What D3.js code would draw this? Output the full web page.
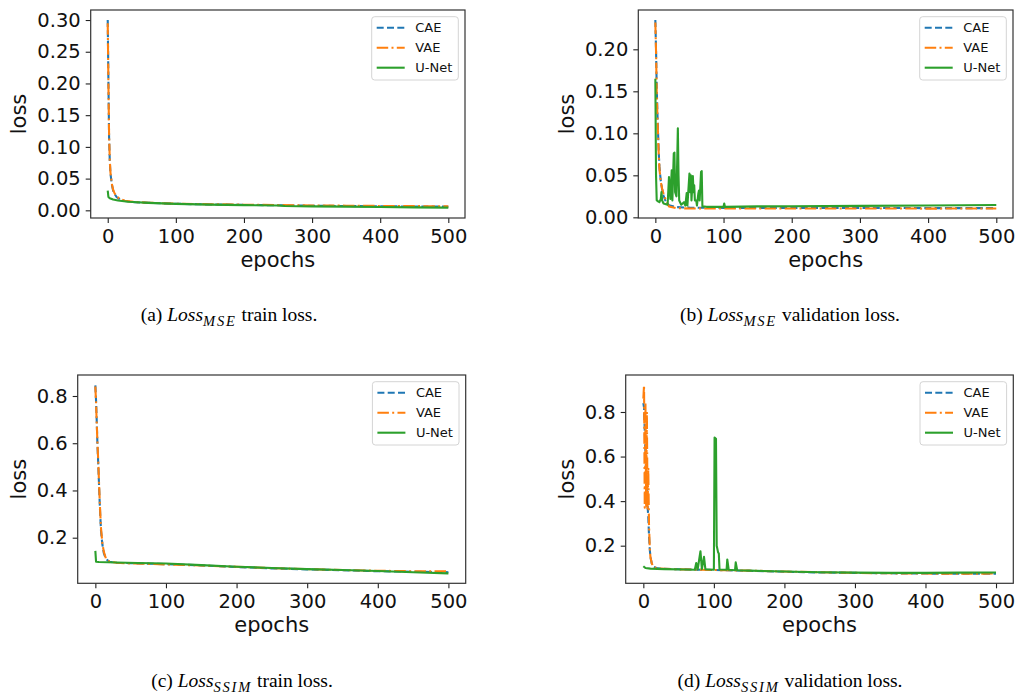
<!DOCTYPE html>
<html>
<head>
<meta charset="utf-8">
<script src="https://cdn.jsdelivr.net/npm/d3@7"></script>
<style>
  body { margin: 0; background: #fff; }
  svg text { font-family: "DejaVu Sans", sans-serif; }
  .cap { font-family: "Liberation Serif", "Times New Roman", serif; }
</style>
</head>
<body>
<svg id="fig" width="1016" height="695"></svg>
<script>
// series, [epoch, loss]
var seriesNames = ["CAE", "VAE", "U-Net"];
var colors = ["#1f77b4", "#ff7f0e", "#2ca02c"];
var dashes = ["7,3.3", "11.5,3.3,2,3.3", null];

// (a) MSE train
var aCAE = [[0,0.300],[1,0.205],[2,0.115],[3,0.078],[4,0.058],[6,0.041],[8,0.031],[10,0.026],[13,0.021],[18,0.017],[25,0.0148],[40,0.0128],[60,0.0118],[100,0.0103],[150,0.0093],[200,0.0085],[250,0.0079],[300,0.0072],[350,0.0068],[400,0.0063],[450,0.006],[500,0.0057]];
var aVAE = [[0,0.295],[1,0.200],[2,0.118],[3,0.080],[4,0.060],[6,0.042],[8,0.032],[10,0.027],[13,0.022],[18,0.018],[25,0.015],[40,0.013],[60,0.012],[100,0.0105],[150,0.0096],[200,0.0089],[250,0.0082],[300,0.0077],[350,0.0073],[400,0.0069],[450,0.0066],[500,0.0063]];
var aUNet = [[0,0.031],[1,0.021],[3,0.019],[8,0.017],[15,0.0155],[30,0.0135],[60,0.0118],[100,0.0101],[150,0.009],[200,0.0082],[250,0.0075],[260,0.0068],[300,0.0063],[350,0.0058],[400,0.0052],[450,0.0047],[500,0.0042]];

// (b) MSE validation
var bCAE = [[0,0.235],[1,0.200],[2,0.155],[3,0.125],[4,0.100],[5,0.077],[6,0.060],[8,0.043],[10,0.033],[12,0.026],[15,0.019],[20,0.0145],[30,0.0122],[50,0.0115],[100,0.0113],[150,0.0112],[200,0.0112],[300,0.0111],[400,0.0110],[500,0.0110]];
var bVAE = [[0,0.232],[1,0.198],[2,0.150],[3,0.120],[4,0.097],[5,0.075],[6,0.058],[8,0.042],[10,0.034],[12,0.028],[15,0.021],[20,0.013],[30,0.011],[50,0.0105],[100,0.0106],[200,0.0105],[300,0.0106],[400,0.0104],[500,0.0105]];
var bUNet = [[0,0.165],[1,0.050],[2,0.0205],[4,0.019],[6,0.018],[8,0.022],[9,0.030],[10,0.020],[12,0.0165],[18,0.015],[20,0.048],[22,0.022],[24,0.056],[25,0.020],[27,0.076],[28,0.077],[29,0.030],[31,0.025],[33,0.106],[34,0.050],[35,0.020],[38,0.015],[42,0.018],[44,0.014],[46,0.029],[47,0.014],[50,0.052],[51,0.030],[52,0.050],[53,0.020],[55,0.049],[56,0.030],[57,0.038],[58,0.020],[60,0.020],[61,0.014],[63,0.028],[64,0.032],[65,0.020],[67,0.054],[68,0.055],[69,0.013],[75,0.0125],[100,0.0125],[101,0.0165],[102,0.0125],[150,0.013],[200,0.0132],[300,0.0136],[400,0.0141],[500,0.0146]];

// (c) SSIM train
var cCAE = [[0,0.845],[1,0.78],[2,0.69],[3,0.59],[4,0.52],[5,0.44],[6,0.36],[7,0.29],[8,0.23],[10,0.17],[12,0.135],[15,0.11],[20,0.098],[30,0.094],[50,0.092],[100,0.088],[150,0.083],[200,0.076],[250,0.070],[300,0.066],[350,0.062],[400,0.058],[450,0.056],[500,0.054]];
var cVAE = [[0,0.84],[1,0.77],[2,0.68],[3,0.60],[4,0.53],[5,0.45],[6,0.37],[7,0.30],[8,0.24],[10,0.175],[12,0.14],[15,0.112],[20,0.099],[30,0.094],[50,0.091],[100,0.087],[150,0.082],[200,0.077],[250,0.071],[300,0.067],[350,0.063],[400,0.060],[450,0.058],[500,0.058]];
var cUNet = [[0,0.144],[1,0.098],[5,0.097],[30,0.095],[60,0.093],[100,0.091],[150,0.084],[200,0.077],[250,0.072],[300,0.067],[350,0.063],[400,0.059],[450,0.054],[500,0.049]];

// (d) SSIM validation
var dCAE = [[0,0.84],[1,0.82],[2,0.72],[3,0.62],[4,0.52],[5,0.44],[6,0.38],[7,0.33],[8,0.25],[9,0.19],[10,0.15],[12,0.12],[15,0.105],[20,0.098],[50,0.094],[100,0.091],[150,0.087],[200,0.083],[250,0.080],[300,0.078],[350,0.076],[400,0.075],[450,0.074],[500,0.074]];
var dVAE = [[0,0.86],[1,0.92],[2,0.37],[3,0.84],[4,0.38],[5,0.80],[6,0.36],[7,0.55],[8,0.30],[9,0.20],[10,0.15],[12,0.12],[15,0.104],[20,0.098],[50,0.094],[100,0.091],[150,0.088],[200,0.084],[250,0.081],[300,0.078],[350,0.076],[400,0.075],[450,0.074],[500,0.075]];
var dUNet = [[0,0.108],[3,0.100],[10,0.097],[30,0.095],[60,0.093],[73,0.092],[75,0.122],[77,0.093],[81,0.175],[83,0.095],[86,0.150],[88,0.094],[100,0.092],[101,0.685],[103,0.680],[104,0.200],[106,0.170],[107,0.165],[108,0.093],[118,0.092],[119,0.138],[121,0.092],[130,0.090],[131,0.125],[133,0.090],[150,0.088],[200,0.084],[250,0.081],[300,0.079],[350,0.078],[400,0.078],[450,0.079],[500,0.080]];

var xTicks = [0, 100, 200, 300, 400, 500];
var mseTicks = [0, 0.05, 0.10, 0.15, 0.20, 0.25, 0.30];
var mseValTicks = [0, 0.05, 0.10, 0.15, 0.20];
var ssimTicks = [0.2, 0.4, 0.6, 0.8];

var captions = [
  {tag: "(a) ", sub: "MSE", rest: " train loss."},
  {tag: "(b) ", sub: "MSE", rest: " validation loss."},
  {tag: "(c) ", sub: "SSIM", rest: " train loss."},
  {tag: "(d) ", sub: "SSIM", rest: " validation loss."}
];

var panels = [
  {box: [90.7, 10, 465, 218], yDom: [-0.0121, 0.3158], ticks: mseTicks, fmt: ".2f", data: [aCAE, aVAE, aUNet], capX: 229, capY: 321},
  {box: [638.3, 10, 1013, 218], yDom: [-0.0008, 0.2468], ticks: mseValTicks, fmt: ".2f", data: [bCAE, bVAE, bUNet], capX: 790, capY: 321},
  {box: [77.7, 375, 465.7, 583.3], yDom: [0.0069, 0.8889], ticks: ssimTicks, fmt: ".1f", data: [cCAE, cVAE, cUNet], capX: 242, capY: 687},
  {box: [625.7, 375, 1013.3, 583.3], yDom: [0.0312, 0.966], ticks: ssimTicks, fmt: ".1f", data: [dCAE, dVAE, dUNet], capX: 790, capY: 687}
];

var svg = d3.select("#fig");
svg.append("rect").attr("width", 1016).attr("height", 695).attr("fill", "#fff");

panels.forEach(function(p, i) {
  var x0 = p.box[0], y0 = p.box[1], x1 = p.box[2], y1 = p.box[3];
  var x = d3.scaleLinear().domain([-25, 524.5]).range([x0, x1]);
  var y = d3.scaleLinear().domain(p.yDom).range([y1, y0]);

  var g = svg.append("g");
  var clipId = "clip" + i;
  g.append("clipPath").attr("id", clipId)
    .append("rect").attr("x", x0).attr("y", y0).attr("width", x1 - x0).attr("height", y1 - y0);

  var line = d3.line()
    .x(function(d) { return x(d[0]); })
    .y(function(d) { return y(d[1]); });

  p.data.forEach(function(s, k) {
    g.append("path")
      .attr("clip-path", "url(#" + clipId + ")")
      .attr("d", line(s))
      .attr("fill", "none")
      .attr("stroke", colors[k])
      .attr("stroke-width", 2.1)
      .attr("stroke-linejoin", "round")
      .attr("stroke-dasharray", dashes[k]);
  });

  // axes
  var xa = g.append("g").attr("transform", "translate(0," + y1 + ")")
    .call(d3.axisBottom(x).tickValues(xTicks).tickSize(5).tickPadding(6).tickSizeOuter(0));
  var ya = g.append("g").attr("transform", "translate(" + x0 + ",0)")
    .call(d3.axisLeft(y).tickValues(p.ticks).tickFormat(d3.format(p.fmt)).tickSize(5).tickPadding(5).tickSizeOuter(0));
  [xa, ya].forEach(function(a) {
    a.select(".domain").remove();
    a.selectAll("line").attr("stroke", "#222").attr("stroke-width", 1.1);
    a.selectAll("text").attr("font-size", 19.5).attr("fill", "#111").attr("font-family", "DejaVu Sans");
  });

  g.append("rect")
    .attr("x", x0).attr("y", y0).attr("width", x1 - x0).attr("height", y1 - y0)
    .attr("fill", "none").attr("stroke", "#333").attr("stroke-width", 1.2);

  g.append("text")
    .attr("x", (x0 + x1) / 2).attr("y", y1 + 49)
    .attr("text-anchor", "middle").attr("font-size", 21).attr("fill", "#111")
    .text("epochs");
  var ly = (y0 + y1) / 2;
  var lx = (i % 2 == 0) ? 18.5 : 566.7;
  g.append("text")
    .attr("transform", "translate(" + (lx + 7) + "," + ly + ") rotate(-90)")
    .attr("text-anchor", "middle").attr("font-size", 21).attr("fill", "#111")
    .text("loss");

  // legend
  var lgx = x1 - 93.3, lgy = y0 + 6.7;
  var lg = g.append("g").attr("transform", "translate(" + lgx + "," + lgy + ")");
  lg.append("rect").attr("width", 86.6).attr("height", 63.3).attr("rx", 3)
    .attr("fill", "#fff").attr("fill-opacity", 0.8).attr("stroke", "#d4d4d4").attr("stroke-width", 1);
  seriesNames.forEach(function(name, k) {
    var ry = 11 + k * 20;
    lg.append("line").attr("x1", 5).attr("x2", 33).attr("y1", ry).attr("y2", ry)
      .attr("stroke", colors[k]).attr("stroke-width", 2.1).attr("stroke-dasharray", dashes[k]);
    lg.append("text").attr("x", 43.5).attr("y", ry).attr("dy", "0.35em")
      .attr("font-size", 13).attr("fill", "#111").text(name);
  });

  // caption
  var c = captions[i];
  var t = svg.append("text").attr("class", "cap")
    .attr("x", p.capX).attr("y", p.capY).attr("text-anchor", "middle")
    .attr("font-size", 19.5).attr("fill", "#000");
  t.append("tspan").text(c.tag);
  t.append("tspan").attr("font-style", "italic").text("Loss");
  t.append("tspan").attr("font-style", "italic").attr("font-size", 14.5).attr("dy", 5).attr("letter-spacing", 1.8).text(c.sub);
  t.append("tspan").attr("dy", -5).text(c.rest);
});
</script>
</body>
</html>
